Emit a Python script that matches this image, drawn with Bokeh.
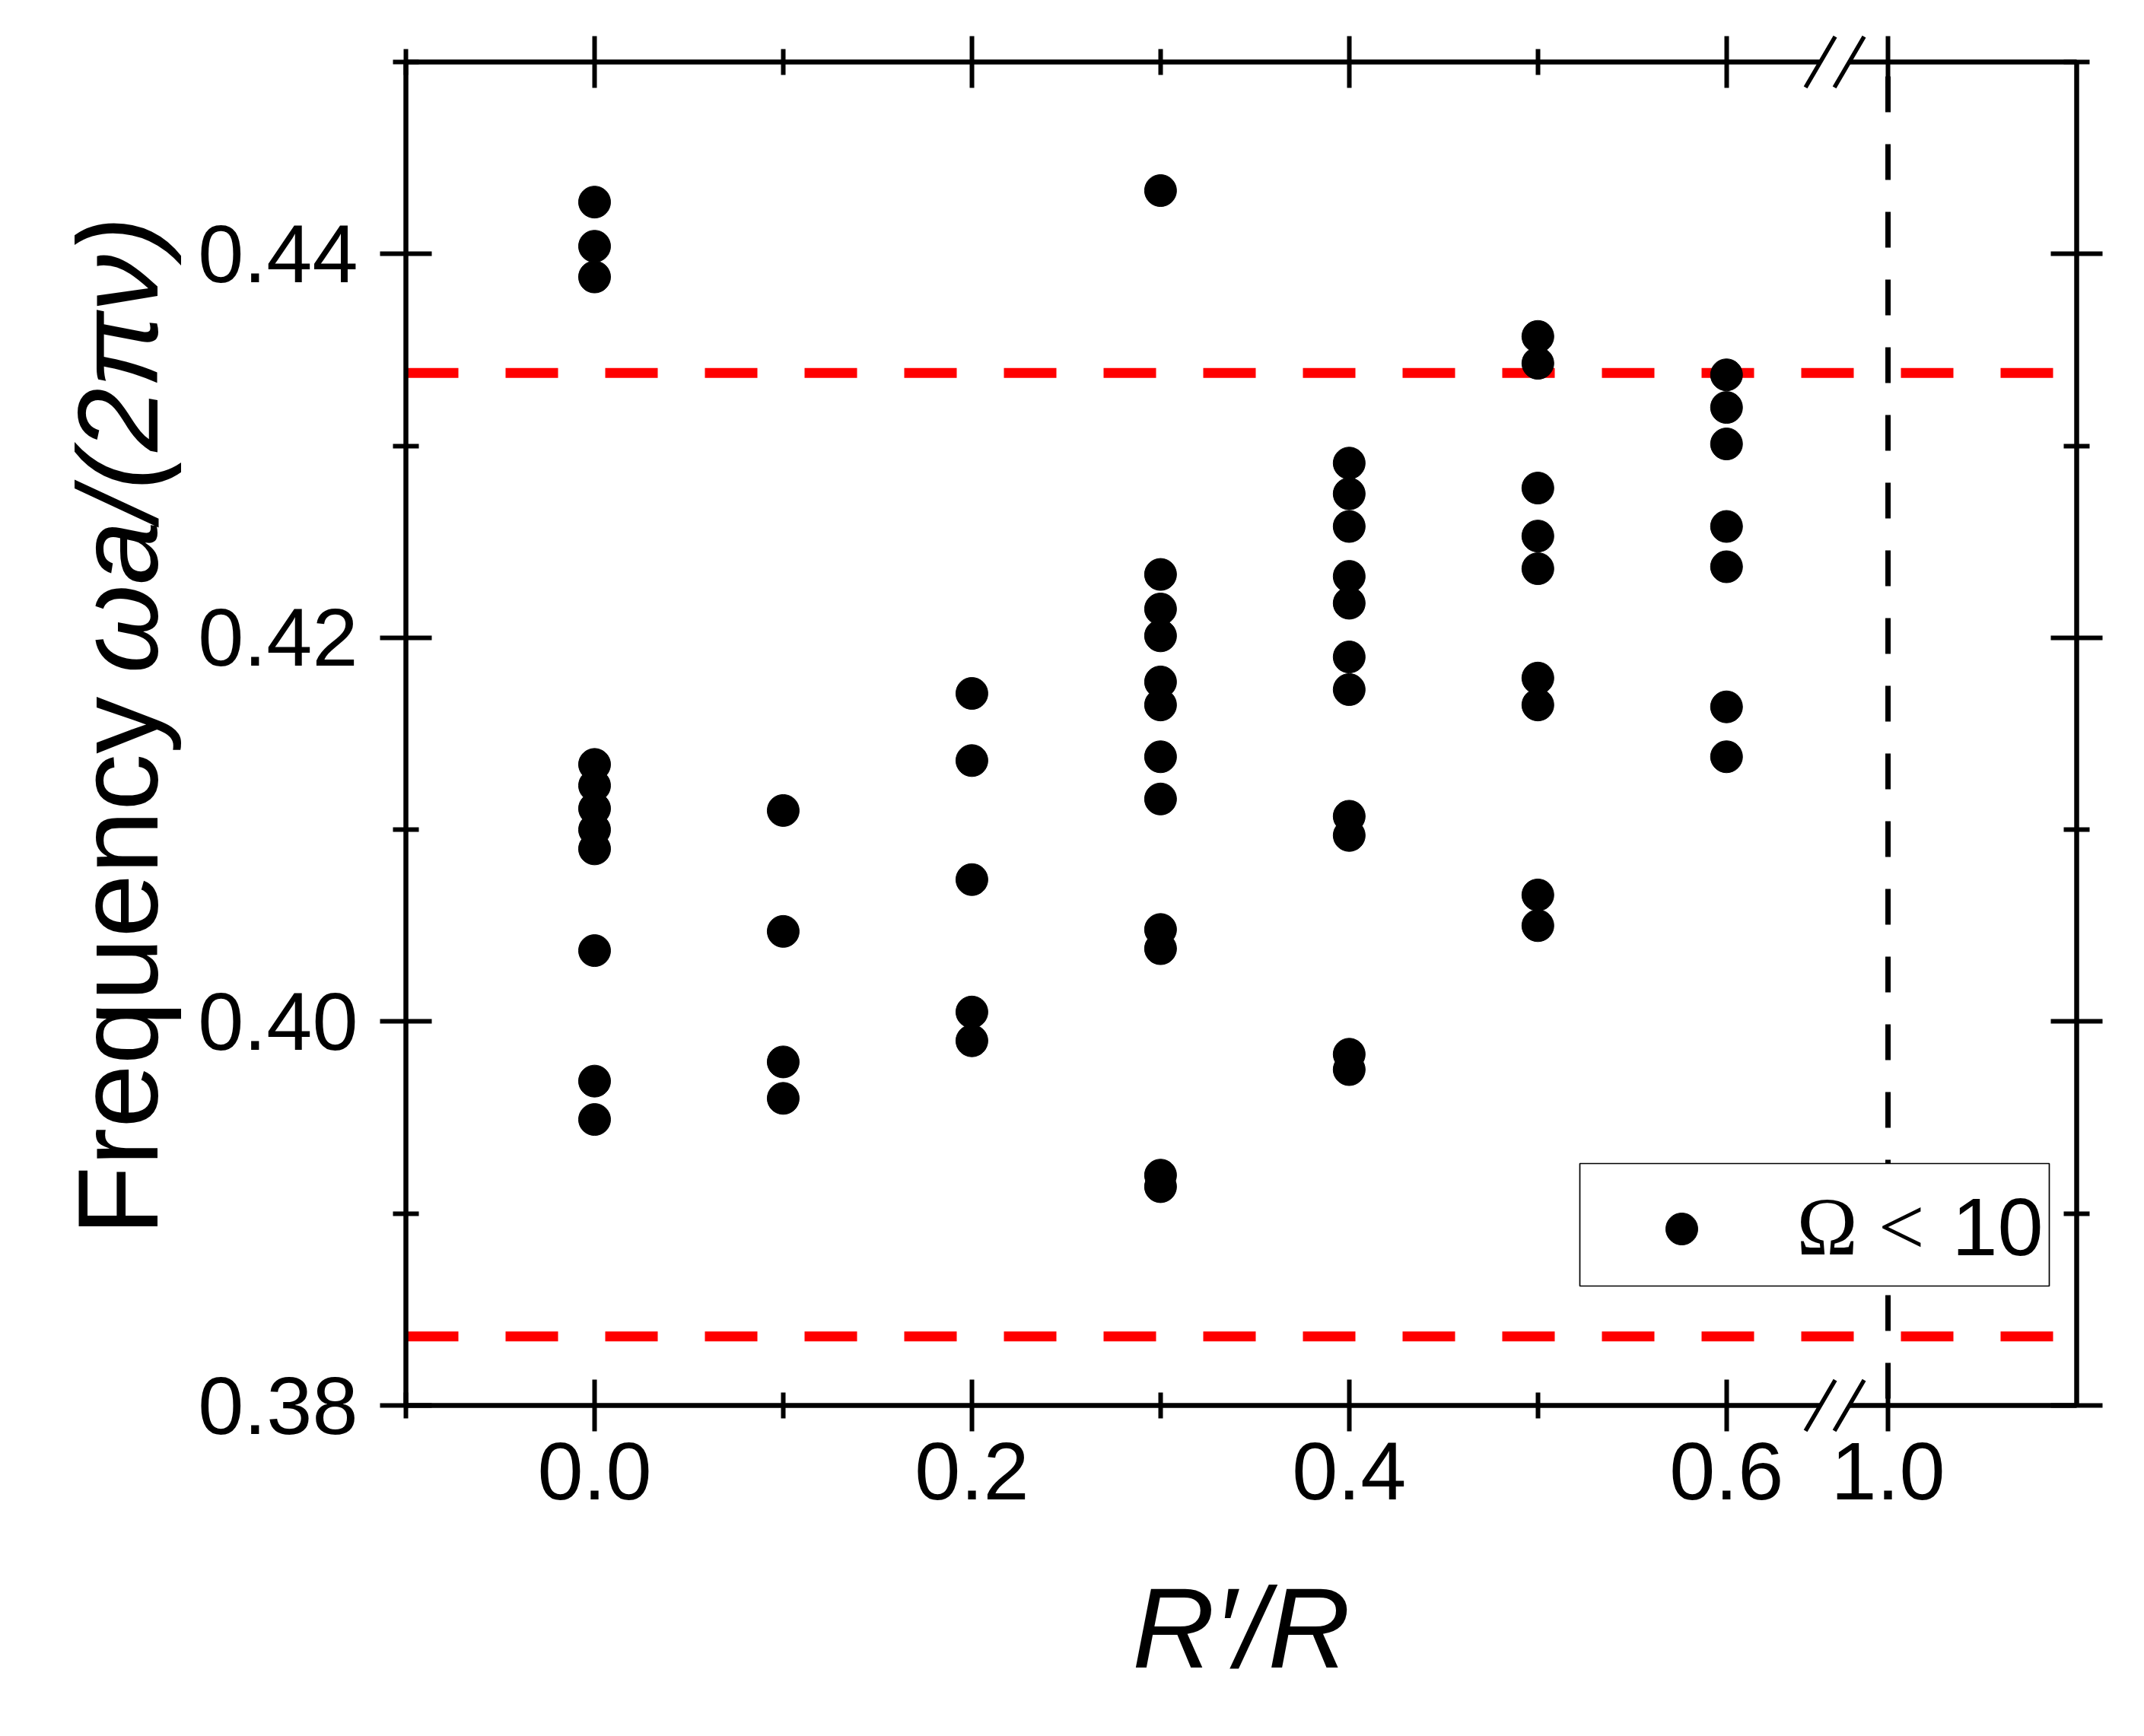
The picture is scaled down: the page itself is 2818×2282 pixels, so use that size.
import math
from bokeh.plotting import figure
from bokeh.models import FixedTicker, CustomJSTickFormatter, LinearAxis, Range1d
from bokeh.core.properties import value
from bokeh.embed import file_html
from bokeh.resources import INLINE

# ---------------- data ----------------
ratio_values = [0.0, 0.1, 0.2, 0.3, 0.4, 0.5, 0.6]
freq_at_00 = [0.4427, 0.4404, 0.4388, 0.4134, 0.4123, 0.4111, 0.4100, 0.4090, 0.4037, 0.3969, 0.3949]
freq_at_01 = [0.4110, 0.4047, 0.3979, 0.3960]
freq_at_02 = [0.4171, 0.4136, 0.4074, 0.4005, 0.3990]
freq_at_03 = [0.4433, 0.4233, 0.4215, 0.4201, 0.4177, 0.4165, 0.4138, 0.4116, 0.4048, 0.4038, 0.3920, 0.3914]
freq_at_04 = [0.4291, 0.4275, 0.4258, 0.4232, 0.4218, 0.4190, 0.4173, 0.4107, 0.4097, 0.3983, 0.3975]
freq_at_05 = [0.4357, 0.4343, 0.4278, 0.4253, 0.4236, 0.4179, 0.4165, 0.4066, 0.4050]
freq_at_06 = [0.4337, 0.4320, 0.4301, 0.4258, 0.4237, 0.4164, 0.4138]
gap_edges = [0.4338, 0.3836]          # red dashed band edges
full_ratio = 1.0                      # black dashed reference line
x_major_values = [0.0, 0.2, 0.4, 0.6, 1.0]
x_minor_values = [-0.1, 0.1, 0.3, 0.5]
x_tick_labels = ["0.0", "0.2", "0.4", "0.6", "1.0"]
y_major_values = [0.38, 0.40, 0.42, 0.44]
y_minor_values = [0.39, 0.41, 0.43, 0.45]
y_tick_labels = ["0.38", "0.40", "0.42", "0.44"]
legend_symbol_text = "\u03a9 <"
legend_value_text = "10"
x_title = "R\u2032/R"
y_title_plain = "Frequency"
y_title_math = "\u03c9a/(2\u03c0\u03bd)"

# ---------------- broken x axis ----------------
BREAK_SHIFT = 0.3144          # values >= 1.0 are drawn shifted left by this much
BREAK_AT = 0.6574             # where the axis break marks sit (axis coordinate)


def to_axis(x):
    return x - BREAK_SHIFT if x >= 0.8 else x


X_MIN, X_MAX = -0.1, to_axis(1.1)
Y_MIN, Y_MAX = 0.38, 0.45

W, H = 2802, 2266
ML, MT = 533, 81
FW, FH = 2196, 1766
MR, MB = W - ML - FW, H - MT - FH


def ux(px):
    return X_MIN + (px - ML) / FW * (X_MAX - X_MIN)


def vy(py):
    return Y_MAX - (py - MT) / FH * (Y_MAX - Y_MIN)


p = figure(width=W, height=H, output_backend="svg", toolbar_location=None,
           x_range=Range1d(X_MIN, X_MAX), y_range=Range1d(Y_MIN, Y_MAX),
           min_border_left=ML, min_border_right=MR, min_border_top=MT, min_border_bottom=MB,
           background_fill_color="white", border_fill_color="white")
p.outline_line_color = None
p.xgrid.visible = False
p.ygrid.visible = False

lookup_code = """
let best = 0, bd = Infinity;
for (let i = 0; i < pos.length; i++) {
  const d = Math.abs(pos[i] - tick);
  if (d < bd) { bd = d; best = i; }
}
return labels[best];
"""
x_pos = [to_axis(v) for v in x_major_values]
x_ticker = FixedTicker(ticks=x_pos, minor_ticks=[to_axis(v) for v in x_minor_values])
y_ticker = FixedTicker(ticks=y_major_values, minor_ticks=y_minor_values)
x_fmt = CustomJSTickFormatter(args=dict(pos=x_pos, labels=x_tick_labels), code=lookup_code)
y_fmt = CustomJSTickFormatter(args=dict(pos=y_major_values, labels=y_tick_labels), code=lookup_code)

xb = p.xaxis[0]
yl = p.yaxis[0]
xa = LinearAxis()
yr = LinearAxis()
p.add_layout(xa, "above")
p.add_layout(yr, "right")


def style_axis(ax, ticker, fmt, show_labels, standoff):
    ax.ticker = ticker
    ax.formatter = fmt
    ax.axis_line_color = "black"
    ax.axis_line_width = 6.5
    ax.major_tick_line_color = "black"
    ax.minor_tick_line_color = "black"
    ax.major_tick_line_width = 6
    ax.minor_tick_line_width = 6
    ax.major_tick_in = 34
    ax.major_tick_out = 34
    ax.minor_tick_in = 17
    ax.minor_tick_out = 17
    ax.major_label_text_font = "Liberation Sans"
    ax.major_label_standoff = standoff
    if show_labels:
        ax.major_label_text_font_size = "108px"
        ax.major_label_text_color = "black"
    else:
        ax.major_label_text_font_size = "1px"
        ax.major_label_text_color = None


style_axis(xb, x_ticker, x_fmt, True, 15)
style_axis(xa, x_ticker, x_fmt, False, 0)
style_axis(yl, y_ticker, y_fmt, True, 29)
style_axis(yr, y_ticker, y_fmt, False, 0)

xb.axis_label = x_title
xb.axis_label_text_font = "Liberation Sans"
xb.axis_label_text_font_style = "italic"
xb.axis_label_text_font_size = "150px"
xb.axis_label_text_color = "black"
xb.axis_label_standoff = 82

# ---------------- reference lines ----------------
for lvl in gap_edges:
    p.line([X_MIN, X_MAX], [lvl, lvl], line_color="#ff0000", line_width=13,
           line_dash="69 62")

p.line([to_axis(full_ratio)] * 2, [Y_MAX, Y_MIN], line_color="black", line_width=7,
       line_dash="47 42", line_dash_offset=70)

# ---------------- data points ----------------
columns = [freq_at_00, freq_at_01, freq_at_02, freq_at_03, freq_at_04, freq_at_05, freq_at_06]
xs, ys = [], []
for xv, vals in zip(ratio_values, columns):
    xs += [xv] * len(vals)
    ys += vals
p.scatter(xs, ys, size=42, marker="circle", fill_color="black", line_color="black")

# ---------------- legend ----------------
p.quad(left=[ux(2076)], right=[ux(2693)], top=[vy(1529)], bottom=[vy(1690)],
       fill_color="white", line_color="black", line_width=1.7)
p.scatter([ux(2210)], [vy(1615)], size=42, marker="circle", fill_color="black", line_color="black")
MID = 0.37  # em fraction from baseline to the middle of the text box
p.text([ux(2361)], [vy(1652 - MID * 108)], text=[legend_symbol_text],
       text_font=value("Liberation Serif"), text_font_size=value("108px"),
       text_align="left", text_baseline="middle", text_color="black")
p.text([ux(2565)], [vy(1652 - MID * 108)], text=[legend_value_text],
       text_font=value("Liberation Sans"), text_font_size=value("108px"),
       text_align="left", text_baseline="middle", text_color="black")

# ---------------- y axis title (mixed styles, drawn unclipped) ----------------
ytx = ux(210 - MID * 150)
p.text([ytx], [vy(1269.5)], text=[y_title_plain], angle=math.pi / 2,
       text_font=value("Liberation Sans"), text_font_size=value("150px"),
       text_align="center", text_baseline="middle", text_color="black", level="overlay")
p.text([ytx], [vy(584.5)], text=[y_title_math], angle=math.pi / 2,
       text_font=value("Liberation Sans"), text_font_style="italic",
       text_font_size=value("150px"),
       text_align="center", text_baseline="middle", text_color="black", level="overlay")

# ---------------- axis break marks ----------------
bx = ML + (BREAK_AT - X_MIN) / (X_MAX - X_MIN) * FW
hx, hy = 19.5, 33.35
for cy in (MT, MT + FH):
    p.segment(x0=[ux(bx - 19)], y0=[vy(cy)], x1=[ux(bx + 19)], y1=[vy(cy)],
              line_color="white", line_width=12, level="overlay")
    for cx in (bx - 19, bx + 19):
        p.segment(x0=[ux(cx - hx)], y0=[vy(cy + hy)], x1=[ux(cx + hx)], y1=[vy(cy - hy)],
                  line_color="black", line_width=5.5, level="overlay")

open("out.html", "w").write(file_html(p, INLINE))
